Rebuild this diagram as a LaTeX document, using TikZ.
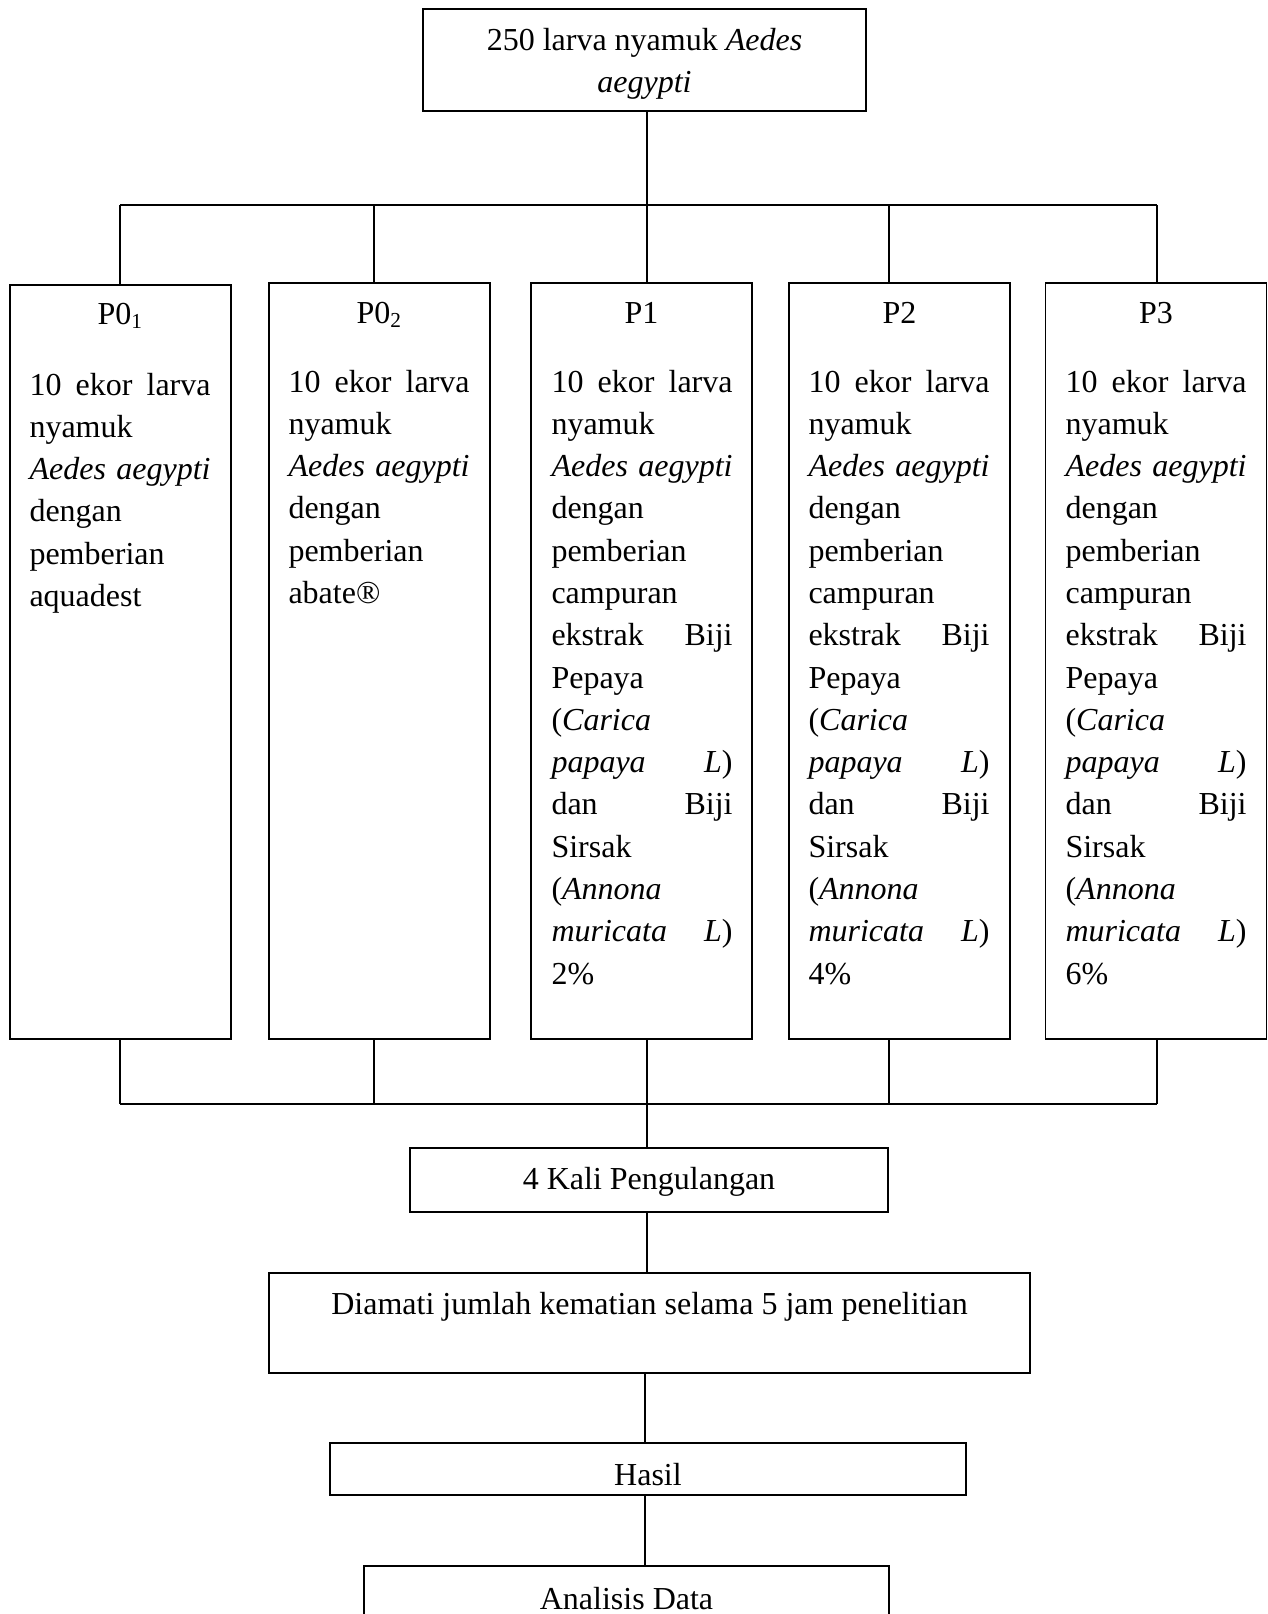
\documentclass[tikz,border=0pt]{standalone}
\usepackage{fontspec}
\setmainfont{Liberation Serif}
\begin{document}
\begin{tikzpicture}[x=0.375pt,y=-0.375pt,
  every node/.style={font=\fontsize{12pt}{15.86pt}\selectfont},
  box/.style={draw, line width=0.6pt, inner sep=0pt},
  txt/.style={inner sep=0pt, align=center},
  pbox/.style={draw, line width=0.6pt, inner sep=0pt, minimum width=82.875pt, minimum height=283.5pt},
  ptitle/.style={anchor=base, inner sep=0pt},
  pbody/.style={anchor=base west, inner sep=0pt, text width=67.9pt, align=left},
  conn/.style={line width=0.7pt}]
\clip (0,0) rectangle (1268,1614);
% top box
\node[box, minimum width=166.125pt, minimum height=38.25pt] (top) at (644.5,60) {};
\node[txt, yshift=-1.5pt] (topt) at (top.center) {250 larva nyamuk \textit{Aedes}\\\textit{aegypti}};
% treatment boxes
\node[pbox, minimum height=282.75pt] (p01) at (120.5,662) {};
\node[pbox] (p02) at (379.5,661) {};
\node[pbox] (p1) at (641.5,661) {};
\node[pbox] (p2) at (899.5,661) {};
\node[pbox] (p3) at (1156,661) {};
% titles
\node[ptitle] (p01t) at (120.5,324) {P0\textsubscript{1}};
\node[ptitle] (p02t) at (379.5,323) {P0\textsubscript{2}};
\node[ptitle] (p1t) at (641.5,323) {P1};
\node[ptitle] (p2t) at (899.5,323) {P2};
\node[ptitle] (p3t) at (1156,323) {P3};
% bodies
\node[pbody] (p01b) at (29,395) {10\hfill ekor\hfill larva\\nyamuk\\\textit{Aedes}\hfill\textit{aegypti}\\dengan\\pemberian\\aquadest};
\node[pbody] (p02b) at (288,392) {10\hfill ekor\hfill larva\\nyamuk\\\textit{Aedes}\hfill\textit{aegypti}\\dengan\\pemberian\\abate®};
\node[pbody] (p1b) at (551,392) {10\hfill ekor\hfill larva\\nyamuk\\\textit{Aedes}\hfill\textit{aegypti}\\dengan\\pemberian\\campuran\\ekstrak\hfill Biji\\Pepaya\\(\textit{Carica}\\\textit{papaya}\hfill\textit{L})\\dan\hfill Biji\\Sirsak\\(\textit{Annona}\\\textit{muricata}\hfill\textit{L})\\2\%};
\node[pbody] (p2b) at (808,392) {10\hfill ekor\hfill larva\\nyamuk\\\textit{Aedes}\hfill\textit{aegypti}\\dengan\\pemberian\\campuran\\ekstrak\hfill Biji\\Pepaya\\(\textit{Carica}\\\textit{papaya}\hfill\textit{L})\\dan\hfill Biji\\Sirsak\\(\textit{Annona}\\\textit{muricata}\hfill\textit{L})\\4\%};
\node[pbody] (p3b) at (1065,392) {10\hfill ekor\hfill larva\\nyamuk\\\textit{Aedes}\hfill\textit{aegypti}\\dengan\\pemberian\\campuran\\ekstrak\hfill Biji\\Pepaya\\(\textit{Carica}\\\textit{papaya}\hfill\textit{L})\\dan\hfill Biji\\Sirsak\\(\textit{Annona}\\\textit{muricata}\hfill\textit{L})\\6\%};
% lower boxes
\node[box, minimum width=179.25pt, minimum height=24pt] (kali) at (649,1180) {};
\node[txt, yshift=-0.75pt] (kalit) at (kali.center) {4 Kali Pengulangan};
\node[box, minimum width=285.375pt, minimum height=37.5pt] (amati) at (649.5,1323) {};
\node[txt, yshift=-0.75pt] (amatit) at (amati.center) {Diamati jumlah kematian selama 5 jam penelitian\\\mbox{}};
\node[box, minimum width=238.5pt, minimum height=19.5pt] (hasil) at (648,1469) {};
\node[txt, yshift=-1.9pt] (hasilt) at (hasil.center) {Hasil};
\node[box, minimum width=196.875pt, minimum height=37.5pt] (analisis) at (626.5,1616) {};
\node[txt, yshift=-1.5pt] (analisist) at (analisis.center) {Analisis Data\\\mbox{}};
% bus coordinates
\coordinate (ta) at (120,205);
\coordinate (tb) at (374,205);
\coordinate (tc) at (647,205);
\coordinate (td) at (889,205);
\coordinate (te) at (1157,205);
\coordinate (ba) at (120,1104);
\coordinate (bb) at (374,1104);
\coordinate (bc) at (647,1104);
\coordinate (bd) at (889,1104);
\coordinate (be) at (1157,1104);
% top connectors
\draw[conn] (tc |- top.south) -- (tc);
\draw[conn] (ta) -- (te);
\draw[conn] (ta) -- (ta |- p01.north);
\draw[conn] (tb) -- (tb |- p02.north);
\draw[conn] (tc) -- (tc |- p1.north);
\draw[conn] (td) -- (td |- p2.north);
\draw[conn] (te) -- (te |- p3.north);
% bottom connectors
\draw[conn] (ba) -- (be);
\draw[conn] (ba |- p01.south) -- (ba);
\draw[conn] (bb |- p02.south) -- (bb);
\draw[conn] (bc |- p1.south) -- (bc |- kali.north);
\draw[conn] (bd |- p2.south) -- (bd);
\draw[conn] (be |- p3.south) -- (be);
% chain
\draw[conn] (bc |- kali.south) -- (bc |- amati.north);
\draw[conn] (645,0 |- amati.south) -- (645,0 |- hasil.north);
\draw[conn] (645,0 |- hasil.south) -- (645,0 |- analisis.north);
\end{tikzpicture}
\end{document}
